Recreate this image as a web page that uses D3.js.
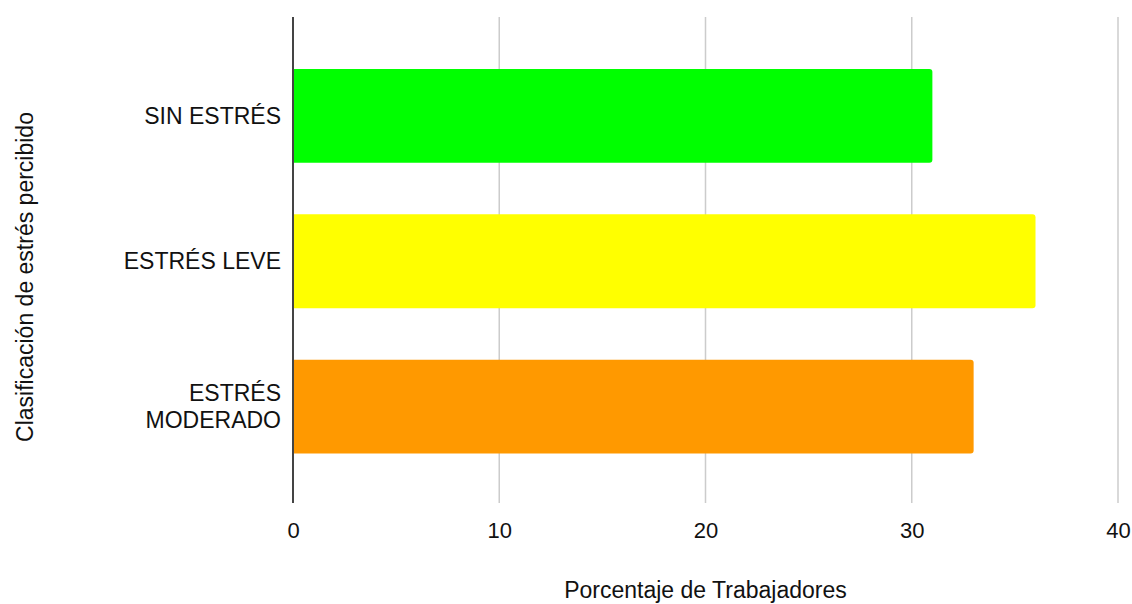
<!DOCTYPE html>
<html>
<head>
<meta charset="utf-8">
<script src="https://cdn.jsdelivr.net/npm/d3@7"></script>
<style>
  html, body { margin: 0; padding: 0; background: #fff; }
  svg { display: block; font-family: "Liberation Sans", Arial, sans-serif; }
</style>
</head>
<body>
<svg id="chart" width="1132" height="604"></svg>
<script>
// Perceived stress classification, % of workers
const categories = ["SIN ESTRÉS", "ESTRÉS LEVE", "ESTRÉS MODERADO"];
const percentages = [31, 36, 33];
const barColors = ["#00ff00", "#ffff00", "#ff9900"];
const xTicks = [0, 10, 20, 30, 40];
const xTitle = "Porcentaje de Trabajadores";
const yTitle = "Clasificación de estrés percibido";

const svg = d3.select("#chart");
const margin = { top: 17, right: 14, bottom: 101, left: 293 };
const W = 1132, H = 604;
const innerW = W - margin.left - margin.right;
const innerH = H - margin.top - margin.bottom;

const x = d3.scaleLinear().domain([0, 40]).range([margin.left, margin.left + innerW]);
const y = d3.scaleBand().domain(categories)
  .range([margin.top + 1.5, margin.top + innerH + 1])
  .paddingInner(0.354).paddingOuter(0.347);

// vertical gridlines
svg.append("g").selectAll("line")
  .data(xTicks.filter(d => d !== 0))
  .join("line")
  .attr("x1", d => x(d)).attr("x2", d => x(d))
  .attr("y1", margin.top).attr("y2", margin.top + innerH)
  .attr("stroke", "#cccccc").attr("stroke-width", 1.5);

// bars, rounded on the value end only
const r = 3;
svg.append("g").selectAll("path")
  .data(categories)
  .join("path")
  .attr("fill", (d, i) => barColors[i])
  .attr("d", (d, i) => {
    const x0 = x(0), x1 = x(percentages[i]);
    const y0 = y(d), y1 = y(d) + y.bandwidth();
    return `M${x0},${y0}H${x1 - r}Q${x1},${y0} ${x1},${y0 + r}V${y1 - r}Q${x1},${y1} ${x1 - r},${y1}H${x0}Z`;
  });

// baseline at zero
svg.append("line")
  .attr("x1", x(0)).attr("x2", x(0))
  .attr("y1", margin.top).attr("y2", margin.top + innerH)
  .attr("stroke", "#444").attr("stroke-width", 2);

// x tick labels
const xAxis = d3.axisBottom(x).tickValues(xTicks).tickSize(0).tickPadding(0);
const gx = svg.append("g").attr("transform", `translate(0,${margin.top + innerH})`).call(xAxis);
gx.select(".domain").remove();
gx.selectAll("text")
  .attr("dy", null).attr("y", 35)
  .attr("font-size", 22).attr("font-family", null).attr("fill", "#111");

// category labels (wrapped where needed)
const labelLines = { "ESTRÉS MODERADO": ["ESTRÉS", "MODERADO"] };
const yAxis = d3.axisLeft(y).tickSize(0).tickFormat(() => "");
const gy = svg.append("g").attr("transform", `translate(${margin.left},0)`).call(yAxis);
gy.select(".domain").remove();
gy.selectAll(".tick").each(function(d) {
  const lines = labelLines[d] || [d];
  const t = d3.select(this).append("text")
    .attr("text-anchor", "end").attr("x", -12)
    .attr("font-size", 23).attr("fill", "#111");
  const lh = 27;
  lines.forEach((s, k) => {
    t.append("tspan").attr("x", -12)
      .attr("y", (k - (lines.length - 1) / 2) * lh + 8)
      .text(s);
  });
});

// axis titles
svg.append("text")
  .attr("x", x(20)).attr("y", 598)
  .attr("text-anchor", "middle").attr("font-size", 23).attr("fill", "#111")
  .text(xTitle);

svg.append("text")
  .attr("transform", `translate(33,277) rotate(-90)`)
  .attr("text-anchor", "middle").attr("font-size", 23).attr("fill", "#111")
  .text(yTitle);
</script>
</body>
</html>
